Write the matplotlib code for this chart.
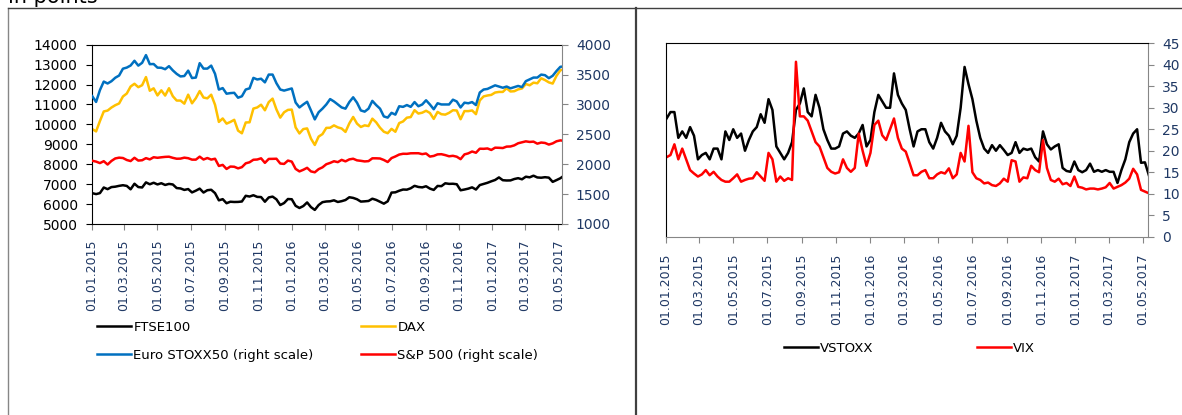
import matplotlib
matplotlib.use("Agg")
import matplotlib.pyplot as plt
import matplotlib.dates as mdates
from matplotlib.lines import Line2D
import pandas as pd

# Weekly readings (Fridays), 02.01.2015 .. 12.05.2017
ftse100 = [6548, 6501, 6550, 6832, 6749, 6853, 6873, 6915, 6946, 6912, 6741, 7022, 6855,
           6833, 7089, 6994, 7071, 6986, 7047, 6960, 7013, 6984, 6804, 6785, 6711, 6754,
           6585, 6673, 6776, 6579, 6696, 6719, 6550, 6188, 6247, 6043, 6117, 6105, 6109,
           6130, 6416, 6378, 6444, 6361, 6353, 6118, 6334, 6375, 6238, 5952, 6052, 6254,
           6242, 5912, 5804, 5900, 6083, 5848, 5707, 5950, 6096, 6130, 6140, 6189, 6106,
           6146, 6204, 6343, 6310, 6242, 6125, 6138, 6156, 6270, 6209, 6116, 6021, 6138,
           6577, 6590, 6669, 6730, 6724, 6793, 6916, 6859, 6838, 6895, 6777, 6710, 6910,
           6899, 7044, 7014, 7020, 6996, 6693, 6730, 6775, 6840, 6730, 6954, 7011, 7068,
           7143, 7210, 7338, 7198, 7184, 7188, 7258, 7300, 7244, 7374, 7343, 7425, 7336,
           7323, 7349, 7327, 7115, 7204, 7297, 7435]
dax = [9765, 9648, 10167, 10649, 10694, 10846, 10963, 11050, 11401, 11550, 11901, 12039,
       11868, 11967, 12375, 11689, 11811, 11454, 11709, 11447, 11815, 11413, 11197, 11196,
       11041, 11492, 11058, 11315, 11673, 11347, 11308, 11490, 10985, 10124, 10298, 10038,
       10123, 10229, 9688, 9553, 10096, 10104, 10794, 10850, 10988, 10708, 11119, 11293,
       10752, 10340, 10608, 10727,
       10743, 9849, 9545, 9764, 9798, 9286, 8967, 9388, 9513, 9824, 9831, 9950, 9851, 9794,
       9622, 10051, 10373, 10039, 9870, 9952, 9916, 10287, 10103, 9834, 9631, 9557, 9776,
       9630, 10066, 10147, 10337, 10367, 10713, 10544, 10587, 10684, 10573, 10276, 10627,
       10511, 10490, 10580, 10711, 10696, 10259, 10668, 10665, 10700, 10513, 11203, 11404,
       11450, 11481,
       11599, 11629, 11630, 11814, 11651, 11666, 11757, 11804, 12027, 11963, 12095, 12064,
       12313, 12225, 12109, 12049, 12438, 12717, 12770]
eurostoxx50 = [3139, 3042, 3240, 3383, 3351, 3389, 3447, 3484, 3599, 3617, 3652, 3731, 3650,
               3697, 3826, 3674, 3677, 3616, 3614, 3590, 3641, 3570, 3512, 3469, 3476, 3566,
               3442, 3450, 3691, 3600, 3600, 3650, 3513, 3249, 3274, 3180, 3190, 3195, 3113,
               3137, 3250, 3270, 3445, 3418, 3431, 3370, 3500, 3500, 3356, 3250, 3232, 3250,
               3268, 3033, 2950, 3000, 3045, 2900, 2750, 2870, 2930, 3000, 3090, 3050, 3000,
               2950, 2930, 3040, 3120, 3030, 2900, 2880, 2930, 3060, 2990, 2930, 2800, 2780,
               2860, 2830, 2970, 2960, 2990, 2960, 3040, 2970, 3000, 3070, 3000, 2920, 3020,
               3000, 3000, 3000, 3080, 3050, 2950, 3030, 3020, 3040, 2990, 3200, 3250, 3260,
               3290, 3320, 3300, 3280, 3300, 3270, 3290, 3310, 3290, 3390, 3420, 3450, 3450,
               3500, 3490, 3440, 3480, 3560, 3630, 3637]
sp500 = [2058, 2044, 2019, 2051, 1995, 2055, 2097, 2110, 2104, 2071, 2053, 2108, 2061, 2067,
         2102, 2081, 2117, 2108, 2116, 2123, 2126, 2107, 2092, 2094, 2110, 2101, 2077, 2077,
         2127, 2079, 2104, 2078, 2092, 1971, 1989, 1921, 1961, 1958, 1931, 1951, 2015, 2033,
         2075, 2079, 2099, 2023, 2089, 2090, 2092, 2012, 2005, 2061,
         2044, 1922, 1880, 1907, 1940, 1880, 1865, 1918, 1948, 2000, 2022, 2050, 2035, 2073,
         2048, 2081, 2092, 2065, 2057, 2047, 2052, 2099, 2099, 2096, 2071, 2037, 2103, 2130,
         2162, 2175, 2174, 2183, 2184, 2184, 2169, 2180, 2128, 2139, 2165, 2168, 2153, 2133,
         2141, 2126, 2085, 2164, 2182, 2213, 2192, 2260, 2258, 2264, 2239,
         2277, 2275, 2271, 2295, 2297, 2316, 2351, 2367, 2383, 2373, 2378, 2344, 2363, 2356,
         2329, 2349, 2384, 2399, 2391]
vstoxx = [27.5, 29, 29, 23, 24.5, 23, 25.5, 23.5, 18, 19, 19.5, 18, 20.5, 20.5, 18, 24.5,
          22.5, 25, 23, 24, 20, 22.5, 24.5, 25.5, 28.5, 26.5, 32, 29.5, 21, 19.5, 18, 19.5,
          22, 29.5, 31, 34.5, 29, 28, 33, 30, 25, 22.5, 20.5, 20.5, 21, 24, 24.5, 23.5, 23,
          24, 26, 21, 22.5, 29, 33, 31.5, 30, 30, 38, 33, 31, 29.5, 25,
          21, 24.5, 25, 25, 22, 20.5, 23, 26.5, 24.5, 23.5, 21.5, 23.5, 30, 39.5, 35.5, 32,
          27, 23, 20.5, 19.5, 21.3, 20, 21.3, 20.2, 19, 19.5, 22, 19.5, 20.5, 20.2, 20.5,
          18.5, 17.5, 24.5, 21.5, 20.3, 21, 21.5, 16, 15.3, 15.1, 17.5, 15.5, 15, 15.5, 17,
          15.1, 15.5, 15.1, 15.5, 15.1, 15.1, 12.5, 15.5, 18, 22, 24, 25, 17.2, 17.3, 14.3]
vix = [18.5, 19, 21.5, 18, 20.5, 18, 15.5, 14.7, 14, 14.5, 15.5, 14.3, 15.1, 14, 13.2, 12.8,
       12.8, 13.6, 14.5, 12.8, 13.2, 13.5, 13.6, 15, 14, 13, 19.5, 18, 12.8, 14, 13, 13.6,
       13.2, 40.7, 28, 28, 27, 24.5, 22, 21, 18.5, 16, 15.1, 14.7, 15, 18, 16, 15.1, 16, 24,
       20, 16.5, 19.5, 26, 27, 23.6, 22.5, 25, 27.5, 23, 20.5, 19.8, 17.1,
       14.3, 14.3, 15.1, 15.5, 13.6, 13.6, 14.5, 15, 14.7, 15.9, 13.6, 14.5, 19.5, 17.5,
       25.8, 15, 13.6, 13.2, 12.4, 12.6, 12, 11.8, 12.4, 13.5, 12.8, 17.8, 17.5, 12.8, 13.8,
       13.6, 16.5, 15.5, 15, 22.5, 16, 13.2, 12.8, 13.5, 12.2, 12.5, 11.8, 14, 11.6, 11.4,
       11, 11.2, 11.2, 11, 11.2, 11.5, 12.5, 11.2, 11.6, 12, 12.6, 13.5, 15.8, 14.5, 10.9,
       10.5, 10.1]

dates = pd.date_range("2015-01-02", periods=len(ftse100), freq="7D")

NAVY = "#1F3864"
GREY = "#868686"


# style_date_axis()
# Date ticks every two months, rotated like the Excel category labels.
def style_date_axis(ax, end, pad):
    ax.set_xlim(pd.Timestamp("2015-01-01"), pd.Timestamp(end))
    ax.xaxis.set_major_locator(mdates.MonthLocator(bymonth=[1, 3, 5, 7, 9, 11]))
    ax.xaxis.set_major_formatter(mdates.DateFormatter("%d.%m.%Y"))
    ax.tick_params(axis="x", direction="out", length=4, width=0.8, color=GREY,
                   labelsize=9, labelcolor=NAVY, labelrotation=90, pad=pad)


def main():
    fig = plt.figure(figsize=(11.82, 4.15), dpi=100)

    # Frame lines around the panels
    fig.add_artist(Line2D([8 / 1182, 8 / 1182], [0, 1 - 8 / 415], color=GREY, lw=1,
                          transform=fig.transFigure))
    fig.add_artist(Line2D([8 / 1182, 1], [1 - 8 / 415, 1 - 8 / 415], color="#404040", lw=1,
                          transform=fig.transFigure))
    fig.add_artist(Line2D([635.5 / 1182, 635.5 / 1182], [0, 1 - 8 / 415], color="#404040",
                          lw=1.6, transform=fig.transFigure))
    # Title sits mostly above the picture, only its lower part shows
    fig.text(8 / 1182, 1 - 3 / 415, "in points", fontsize=15, va="baseline", ha="left")

    # Left panel: equity indices
    ax = fig.add_axes([91.7 / 1182, 1 - 224 / 415, 470.3 / 1182, 179.3 / 415])
    ax2 = ax.twinx()
    l_ftse, = ax.plot(dates, ftse100, color="black", lw=1.8)
    l_dax, = ax.plot(dates, dax, color="#FFC000", lw=1.8)
    l_euro, = ax2.plot(dates, eurostoxx50, color="#0070C0", lw=1.8)
    l_sp, = ax2.plot(dates, sp500, color="#FF0000", lw=1.8)

    ax.set_ylim(5000, 14000)
    ax.set_yticks(range(5000, 14001, 1000))
    ax2.set_ylim(1000, 4000)
    ax2.set_yticks(range(1000, 4001, 500))
    ax.tick_params(axis="y", direction="out", length=4, width=0.8, labelsize=10, pad=6)
    ax2.tick_params(axis="y", direction="out", length=4, width=0.8, color=GREY,
                    labelsize=10, labelcolor=NAVY, pad=6)
    style_date_axis(ax, "2017-05-08", 7)
    for name in ["left", "top", "bottom"]:
        ax.spines[name].set_color("black")
        ax.spines[name].set_linewidth(0.8)
    ax.spines["right"].set_visible(False)
    ax2.spines["right"].set_color(GREY)
    for name in ["left", "top", "bottom"]:
        ax2.spines[name].set_visible(False)

    fig.legend([l_ftse, l_euro, l_dax, l_sp],
               ["FTSE100", "Euro STOXX50 (right scale)", "DAX", "S&P 500 (right scale)"],
               ncol=2, loc="upper left", bbox_to_anchor=(97 / 1182, 1 - 321 / 415),
               frameon=False, fontsize=9.5, handlelength=2.6, handletextpad=0.15,
               columnspacing=3.6, labelspacing=1.1, borderpad=0, borderaxespad=0)

    # Right panel: volatility indices
    axr = fig.add_axes([666 / 1182, 1 - 236.7 / 415, 482.3 / 1182, 193.4 / 415])
    l_vs, = axr.plot(dates, vstoxx, color="black", lw=1.8)
    l_vix, = axr.plot(dates, vix, color="#FF0000", lw=1.8)
    axr.set_ylim(0, 45)
    axr.set_yticks(range(0, 46, 5))
    axr.yaxis.tick_right()
    axr.tick_params(axis="y", direction="out", length=4, width=0.8, color=GREY,
                    labelsize=10, labelcolor=NAVY, pad=6)
    style_date_axis(axr, "2017-05-11", 8)
    axr.spines["left"].set_color("black")
    axr.spines["top"].set_color("black")
    axr.spines["right"].set_color(GREY)
    axr.spines["bottom"].set_color(GREY)
    for s in axr.spines.values():
        s.set_linewidth(0.8)

    fig.legend([l_vs, l_vix], ["VSTOXX", "VIX"], ncol=2, loc="upper left",
               bbox_to_anchor=(784 / 1182, 1 - 342 / 415), frameon=False, fontsize=9.5,
               handlelength=2.6, handletextpad=0.15, columnspacing=7.8,
               borderpad=0, borderaxespad=0)

    fig.savefig("out.png", dpi=100)
    plt.close(fig)


if __name__ == "__main__":
    main()
